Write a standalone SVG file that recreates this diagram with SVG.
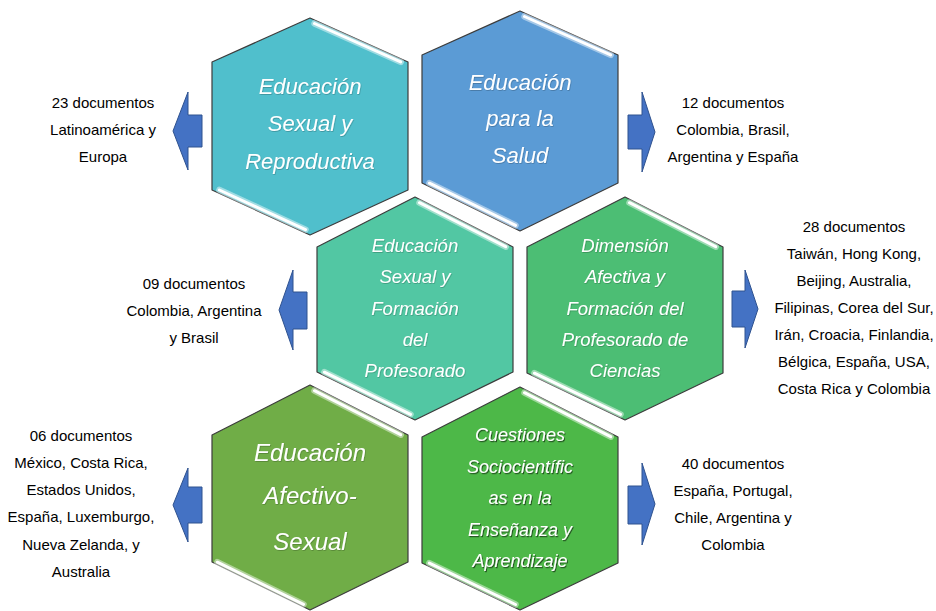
<svg xmlns="http://www.w3.org/2000/svg" width="936" height="611" viewBox="0 0 936 611">
<style>
.hex{stroke:#3c3c3c;stroke-width:1.2;stroke-linejoin:round}
.glow{fill:none;stroke:#ffffff;stroke-opacity:0.45;stroke-width:6.5;stroke-linecap:round}
.hl{fill:none;stroke:#ffffff;stroke-width:3;stroke-linecap:round}
.ht{font-family:"Liberation Sans",Arial,sans-serif;font-style:italic;fill:#ffffff;text-anchor:middle}
.lbl{font-family:"Liberation Sans",Arial,sans-serif;font-size:15px;fill:#000000;text-anchor:middle}
.arr{fill:#4472C4;stroke:#2F528F;stroke-width:1;stroke-linejoin:miter}
</style>
<defs>
<filter id="ts" x="-10%" y="-20%" width="130%" height="150%">
<feDropShadow dx="1" dy="1.2" stdDeviation="0.7" flood-color="#000" flood-opacity="0.55"/>
</filter>
<filter id="ts2" x="-10%" y="-20%" width="130%" height="150%">
<feDropShadow dx="0.6" dy="0.8" stdDeviation="0.6" flood-color="#000" flood-opacity="0.25"/>
</filter>
</defs>
<rect width="936" height="611" fill="#ffffff"/>

<g id="hex-educacion-sexual-reproductiva">
<path class="hex" fill="#50BFCC" d="M310,18 L408,62 L408,190 L310,235 L212,190 L212,62 Z"/>
<path class="glow" d="M314.5,23.5 L400.7,61.9 M219.4,190 L305.5,229.6"/>
<path class="hl" d="M314.5,23.5 L400.7,61.9 M219.4,190 L305.5,229.6"/>
<g class="ht" font-size="22" filter="url(#ts2)">
<text x="310" y="94">Educación</text>
<text x="310" y="131">Sexual y</text>
<text x="310" y="169">Reproductiva</text>
</g>
</g>

<g id="hex-educacion-salud">
<path class="hex" fill="#5B9BD5" d="M520,11 L618,55 L618,183 L520,231 L422,183 L422,55 Z"/>
<path class="glow" d="M524.5,16.5 L610.7,54.9 M429.4,183.2 L515.5,225.4"/>
<path class="hl" d="M524.5,16.5 L610.7,54.9 M429.4,183.2 L515.5,225.4"/>
<g class="ht" font-size="22" filter="url(#ts2)">
<text x="520" y="90">Educación</text>
<text x="520" y="126">para la</text>
<text x="520" y="163">Salud</text>
</g>
</g>

<g id="hex-educacion-sexual-formacion">
<path class="hex" fill="#52C7A3" d="M415,197 L513,247 L513,372 L415,420 L317,372 L317,247 Z"/>
<path class="glow" d="M419.5,202.7 L505.7,246.7 M324.4,372.2 L410.5,414.4"/>
<path class="hl" d="M419.5,202.7 L505.7,246.7 M324.4,372.2 L410.5,414.4"/>
<g class="ht" font-size="18.5" filter="url(#ts2)">
<text x="415" y="251.5">Educación</text>
<text x="415" y="283">Sexual y</text>
<text x="415" y="314.5">Formación</text>
<text x="415" y="346">del</text>
<text x="415" y="377">Profesorado</text>
</g>
</g>

<g id="hex-dimension-afectiva">
<path class="hex" fill="#4CBE74" d="M625,197 L723,247 L723,373 L625,420 L527,373 L527,247 Z"/>
<path class="glow" d="M629.5,202.7 L715.7,246.7 M534.4,373.2 L620.5,414.4"/>
<path class="hl" d="M629.5,202.7 L715.7,246.7 M534.4,373.2 L620.5,414.4"/>
<g class="ht" font-size="18.5" filter="url(#ts2)">
<text x="625" y="251.5">Dimensión</text>
<text x="625" y="283">Afectiva y</text>
<text x="625" y="314.5">Formación del</text>
<text x="625" y="346">Profesorado de</text>
<text x="625" y="377">Ciencias</text>
</g>
</g>

<g id="hex-educacion-afectivo-sexual">
<path class="hex" fill="#70AD47" d="M310,385 L408,435 L408,562 L310,610 L212,562 L212,435 Z"/>
<path class="glow" d="M314.5,390.7 L400.7,434.7 M217.3,562.2 L303.5,604.4"/>
<path class="hl" d="M314.5,390.7 L400.7,434.7 M217.3,562.2 L303.5,604.4"/>
<g class="ht" font-size="24" filter="url(#ts2)">
<text x="310" y="460.5">Educación</text>
<text x="310" y="504">Afectivo-</text>
<text x="310" y="550">Sexual</text>
</g>
</g>

<g id="hex-cuestiones-sociocientificas">
<path class="hex" fill="#4DB848" d="M520,387 L618,437 L618,563 L520,610 L422,563 L422,437 Z"/>
<path class="glow" d="M524.5,392.7 L610.7,436.7 M429.3,563.1 L515.5,604.5"/>
<path class="hl" d="M524.5,392.7 L610.7,436.7 M429.3,563.1 L515.5,604.5"/>
<g class="ht" font-size="18" filter="url(#ts)">
<text x="520" y="441">Cuestiones</text>
<text x="520" y="473">Sociocientífic</text>
<text x="520" y="504">as en la</text>
<text x="520" y="536">Enseñanza y</text>
<text x="520" y="567">Aprendizaje</text>
</g>
</g>

<g id="connectors">
<polygon class="arr" points="173,131 188,92 188,115 202,115 202,147 188,147 188,170"/>
<polygon class="arr" points="655,132 642,92 642,115 628,115 628,149 642,149 642,172"/>
<polygon class="arr" points="279,310 293,270 293,292 307,292 307,329 293,329 293,350"/>
<polygon class="arr" points="758,309 745,270 745,291 732,291 732,327 745,327 745,348"/>
<polygon class="arr" points="173,505 188,468 188,487 202,487 202,523 188,523 188,542"/>
<polygon class="arr" points="655,504 642,463 642,486 628,486 628,524 642,524 642,545"/>
</g>

<g id="label-23" class="lbl">
<text x="103" y="108">23 documentos</text>
<text x="103" y="135">Latinoamérica y</text>
<text x="103" y="162">Europa</text>
</g>
<g id="label-12" class="lbl">
<text x="733" y="108">12 documentos</text>
<text x="733" y="135">Colombia, Brasil,</text>
<text x="733" y="162">Argentina y España</text>
</g>
<g id="label-09" class="lbl">
<text x="194" y="289">09 documentos</text>
<text x="194" y="316">Colombia, Argentina</text>
<text x="194" y="343">y Brasil</text>
</g>
<g id="label-28" class="lbl">
<text x="854" y="232">28 documentos</text>
<text x="854" y="259">Taiwán, Hong Kong,</text>
<text x="854" y="286">Beijing, Australia,</text>
<text x="854" y="313">Filipinas, Corea del Sur,</text>
<text x="854" y="340">Irán, Croacia, Finlandia,</text>
<text x="854" y="367">Bélgica, España, USA,</text>
<text x="854" y="394">Costa Rica y Colombia</text>
</g>
<g id="label-06" class="lbl">
<text x="81" y="441">06 documentos</text>
<text x="81" y="468">México, Costa Rica,</text>
<text x="81" y="495">Estados Unidos,</text>
<text x="81" y="522">España, Luxemburgo,</text>
<text x="81" y="550">Nueva Zelanda, y</text>
<text x="81" y="577">Australia</text>
</g>
<g id="label-40" class="lbl">
<text x="733" y="469">40 documentos</text>
<text x="733" y="496">España, Portugal,</text>
<text x="733" y="523">Chile, Argentina y</text>
<text x="733" y="550">Colombia</text>
</g>
</svg>
